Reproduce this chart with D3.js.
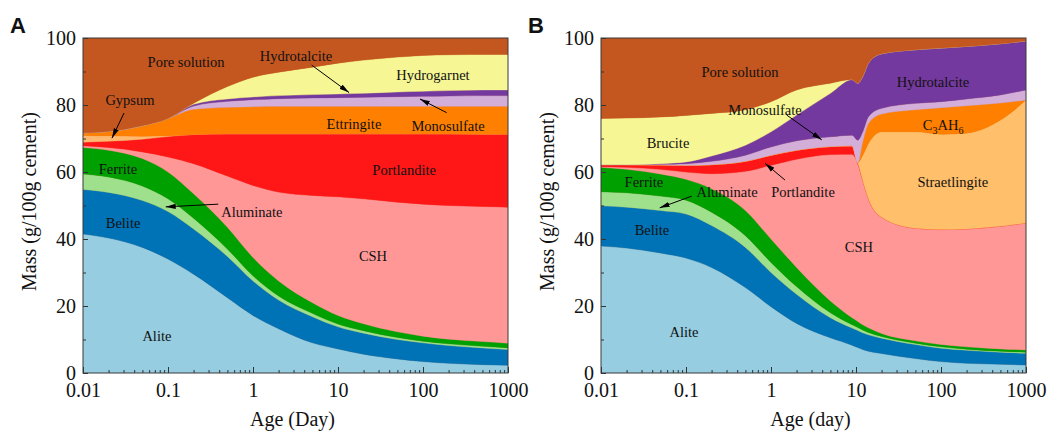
<!DOCTYPE html>
<html>
<head>
<meta charset="utf-8">
<script src="https://cdn.jsdelivr.net/npm/d3@7"></script>
<style>
body { margin: 0; background: #fff; }
svg text { font-family: "Liberation Serif", "Times New Roman", serif; fill: #111; }
</style>
</head>
<body>
<svg id="chart" width="1049" height="435"></svg>
<script>
// ---------- panel A data (g/100g cement) ----------
var agesA        = [0.01, 0.02, 0.05, 0.1, 0.2, 0.5, 1, 2, 5, 10, 20, 50, 100, 200, 500, 1000];
var aliteA       = [41.5, 40.3, 37.5, 34.0, 29.5, 22.5, 17.2, 13.2, 9.0, 7.2, 5.6, 4.2, 3.4, 2.9, 2.5, 2.3];
var beliteA      = [13.3, 13.6, 14.0, 14.2, 13.5, 12.3, 10.3, 8.6, 7.8, 6.6, 6.3, 5.8, 5.6, 5.3, 5.0, 4.7];
var aluminateA   = [4.6, 4.6, 4.3, 3.8, 3.2, 2.2, 1.5, 1.2, 1.0, 0.8, 0.7, 0.6, 0.5, 0.5, 0.5, 0.5];
var ferriteA     = [7.9, 8.0, 8.2, 8.0, 7.3, 6.5, 5.5, 4.5, 3.2, 2.6, 2.1, 1.7, 1.5, 1.4, 1.4, 1.4];
var cshA         = [0.5, 0.8, 2.0, 4.5, 9.0, 15.3, 21.5, 26.5, 32.0, 35.4, 37.3, 38.7, 39.4, 39.9, 40.3, 40.6];
var portlanditeA = [1.1, 1.9, 3.8, 6.1, 8.7, 12.6, 15.4, 17.4, 18.4, 18.8, 19.4, 20.4, 21.0, 21.4, 21.6, 21.8];
var gypsumA      = [2.0, 1.6, 0.9, 0.2, 0, 0, 0, 0, 0, 0, 0, 0, 0, 0, 0, 0];
var ettringiteA  = [0.8, 1.3, 3.1, 5.2, 7.5, 7.9, 8.1, 8.2, 8.2, 8.2, 8.2, 8.2, 8.2, 8.2, 8.3, 8.3];
var monosulfateA = [0, 0, 0, 0, 1.0, 1.8, 2.1, 2.3, 2.5, 2.6, 2.7, 2.9, 3.0, 3.1, 3.2, 3.2];
var hydrotalciteA= [0, 0, 0, 0, 0.5, 0.7, 0.8, 0.9, 1.0, 1.1, 1.2, 1.4, 1.5, 1.6, 1.7, 1.7];
var hydrogarnetA = [0, 0, 0, 0, 0.3, 3.7, 5.9, 7.0, 8.2, 9.2, 9.9, 10.4, 10.7, 10.7, 10.6, 10.6];
var poreA        = [28.3, 27.9, 26.2, 24.0, 19.5, 14.5, 11.7, 10.2, 8.7, 7.5, 6.6, 5.7, 5.2, 5.0, 4.9, 4.9];

// ---------- panel B data ----------
var agesB          = [0.01, 0.02, 0.05, 0.1, 0.2, 0.5, 1, 2, 5, 9, 10.5, 12, 14, 20, 50, 100, 200, 500, 1000];
var aliteB         = [37.9, 37.3, 35.8, 34.3, 31.5, 25.5, 19.8, 14.8, 10.5, 8.3, 7.6, 7.0, 6.5, 5.8, 4.3, 3.4, 2.9, 2.6, 2.4];
var beliteB        = [12.0, 12.2, 12.7, 13.2, 12.5, 12.0, 10.2, 8.7, 6.0, 5.1, 5.1, 5.0, 4.9, 4.6, 4.2, 4.0, 3.9, 3.6, 3.5];
var aluminateB     = [4.2, 4.3, 4.3, 4.1, 4.0, 3.5, 3.0, 2.3, 1.5, 1.0, 0.9, 0.8, 0.7, 0.5, 0.4, 0.4, 0.3, 0.3, 0.3];
var ferriteB       = [7.3, 7.0, 6.6, 6.2, 7.0, 7.5, 7.0, 5.7, 3.5, 2.1, 1.8, 1.6, 1.4, 0.9, 0.7, 0.7, 0.7, 0.7, 0.7];
var cshB           = [0.2, 0.6, 1.4, 2.2, 4.5, 11.7, 22.0, 32.3, 43.7, 48.8, 47.1, 43.1, 38.5, 34.7, 33.6, 34.3, 35.2, 36.6, 37.9];
var portlanditeB   = [0.6, 0.8, 1.3, 2.0, 2.7, 3.0, 3.0, 2.7, 2.4, 2.5, 0.3, 0, 0, 0, 0, 0, 0, 0, 0];
var straetlingiteB = [0, 0, 0, 0, 0, 0, 0, 0, 0, 0, 0, 7.5, 16.5, 25.5, 28.8, 28.5, 28.6, 31.7, 36.7];
var c3ah6B         = [0, 0, 0, 0, 0, 0, 0, 0, 0, 0, 0, 4.0, 6.0, 5.3, 6.6, 7.9, 8.2, 5.1, 0];
var monosulfateB   = [0, 0, 0.2, 0.5, 1.0, 1.8, 2.5, 2.8, 2.9, 3.2, 6.7, 3.0, 2.0, 1.7, 1.9, 1.8, 2.0, 2.4, 3.0];
var hydrotalciteB  = [0, 0, 0.2, 0.5, 1.6, 3.0, 4.5, 7.7, 13.0, 16.6, 17.0, 16.5, 16.0, 16.3, 16.0, 16.0, 15.7, 15.3, 14.6];
var bruciteB       = [13.8, 13.9, 13.9, 13.9, 12.7, 10.6, 9.0, 7.5, 3.0, 0, 0, 0, 0, 0, 0, 0, 0, 0, 0];
var poreB          = [24.0, 23.9, 23.6, 23.1, 22.5, 21.4, 19.0, 15.5, 13.5, 12.4, 13.5, 11.5, 7.5, 4.7, 3.5, 3.0, 2.5, 1.7, 0.9];

var xTickValues = [0.01, 0.1, 1, 10, 100, 1000];
var xTickLabels = ["0.01", "0.1", "1", "10", "100", "1000"];
var yTickValues = [0, 20, 40, 60, 80, 100];

// labels: [text, age, mass]
var labelsA = [
  ["Pore solution", 0.163, 92.8], ["Hydrotalcite", 3.2, 94.6], ["Hydrogarnet", 131, 89.0],
  ["Gypsum", 0.0357, 81.5], ["Ettringite", 15.4, 74.3], ["Monosulfate", 197, 73.7],
  ["Portlandite", 60, 60.6], ["Ferrite", 0.0258, 60.9], ["Aluminate", 0.97, 48.1],
  ["Belite", 0.0296, 44.8], ["CSH", 25.8, 34.9], ["Alite", 0.074, 11.0]
];
var labelsB = [
  ["Pore solution", 0.432, 89.9], ["Hydrotalcite", 80.5, 86.8], ["Brucite", 0.0614, 68.7],
  ["Monosulfate", 0.85, 78.5], ["C3AH6", 106, 74.0], ["Portlandite", 2.38, 54.1],
  ["Ferrite", 0.032, 57.1], ["Aluminate", 0.304, 54.1], ["Straetlingite", 138, 57.1],
  ["Belite", 0.0398, 42.7], ["CSH", 10.8, 37.7], ["Alite", 0.0947, 12.3]
];
// arrows: [fromAge, fromMass, toAge, toMass]
var arrowsA = [[0.0304, 77.6, 0.0219, 70.1], [4.9, 91.9, 13.5, 83.7], [190, 77.7, 92, 81.8], [0.39, 50.4, 0.094, 49.6]];
var arrowsB = [[1.53, 77.0, 3.95, 69.6], [1.46, 57.6, 0.85, 62.6], [0.117, 52.8, 0.049, 49.3]];

var colors = {
  alite: "#96cde1", belite: "#0072b6", aluminate: "#9fe08c", ferrite: "#00a000",
  csh: "#ff9797", portlandite: "#ff1717", gypsum: "#ffb870", ettringite: "#ff8000",
  monosulfate: "#d3aed8", hydrotalcite: "#74399e", hydrogarnet: "#f6f794", brucite: "#f6f794",
  straetlingite: "#ffbf6b", c3ah6: "#ff8000", pore: "#c4561f"
};

var rowsA = agesA.map(function(a, i) {
  return {age: a, alite: aliteA[i], belite: beliteA[i], aluminate: aluminateA[i], ferrite: ferriteA[i],
          csh: cshA[i], portlandite: portlanditeA[i], gypsum: gypsumA[i], ettringite: ettringiteA[i],
          monosulfate: monosulfateA[i], hydrotalcite: hydrotalciteA[i], hydrogarnet: hydrogarnetA[i], pore: poreA[i]};
});
var keysA = ["alite", "belite", "aluminate", "ferrite", "csh", "portlandite", "gypsum", "ettringite",
             "monosulfate", "hydrotalcite", "hydrogarnet", "pore"];

var rowsB = agesB.map(function(a, i) {
  return {age: a, alite: aliteB[i], belite: beliteB[i], aluminate: aluminateB[i], ferrite: ferriteB[i],
          csh: cshB[i], portlandite: portlanditeB[i], straetlingite: straetlingiteB[i], c3ah6: c3ah6B[i],
          monosulfate: monosulfateB[i], hydrotalcite: hydrotalciteB[i], brucite: bruciteB[i], pore: poreB[i]};
});
var keysB = ["alite", "belite", "aluminate", "ferrite", "csh", "portlandite", "straetlingite", "c3ah6",
             "monosulfate", "hydrotalcite", "brucite", "pore"];

var svg = d3.select("#chart");
var plotW = 425, plotH = 335;

svg.append("defs").append("marker")
    .attr("id", "arrow")
    .attr("viewBox", "0 -3 10 6")
    .attr("refX", 10).attr("refY", 0)
    .attr("markerUnits", "userSpaceOnUse")
    .attr("markerWidth", 10).attr("markerHeight", 6)
    .attr("orient", "auto")
  .append("path")
    .attr("d", "M0,-2.6L10,0L0,2.6Z")
    .attr("fill", "#000");

function drawPanel(left, id, rows, keys, labels, arrows, xTitle, letter) {
  var g = svg.append("g").attr("transform", "translate(" + left + ",38)");

  var x = d3.scaleLog().domain([0.01, 1000]).range([0, plotW]);
  var y = d3.scaleLinear().domain([0, 100]).range([plotH, 0]);

  g.append("clipPath").attr("id", "clip" + id)
    .append("rect").attr("width", plotW).attr("height", plotH);

  var plot = g.append("g").attr("clip-path", "url(#clip" + id + ")");
  plot.append("rect").attr("width", plotW).attr("height", plotH).attr("fill", colors.pore);

  var series = d3.stack().keys(keys)(rows);
  var area = d3.area()
      .x(function(d) { return x(d.data.age); })
      .y0(function(d) { return y(d[0]); })
      .y1(function(d) { return y(d[1]); })
      .curve(d3.curveMonotoneX);

  plot.selectAll("path.layer")
    .data(series)
    .enter().append("path")
      .attr("class", "layer")
      .attr("d", area)
      .attr("fill", function(d) { return colors[d.key]; })
      .attr("stroke", function(d) { return colors[d.key]; })
      .attr("stroke-width", 0.4);

  // ticks
  var minors = [];
  [0.01, 0.1, 1, 10, 100].forEach(function(b) {
    for (var k = 2; k < 10; k++) minors.push(b * k);
  });

  g.append("g").attr("transform", "translate(0," + plotH + ")")
    .call(d3.axisBottom(x).tickValues(xTickValues)
      .tickFormat(function(d, i) { return xTickLabels[i]; })
      .tickSizeInner(-6).tickSizeOuter(0).tickPadding(9.5));
  g.append("g").attr("transform", "translate(0," + plotH + ")")
    .call(d3.axisBottom(x).tickValues(minors).tickFormat("").tickSizeInner(-3).tickSizeOuter(0));

  g.append("g")
    .call(d3.axisLeft(y).tickValues(yTickValues).tickSizeInner(-5).tickSizeOuter(0).tickPadding(7));
  g.append("g")
    .call(d3.axisLeft(y).tickValues([10, 30, 50, 70, 90]).tickFormat("").tickSizeInner(-3).tickSizeOuter(0));

  g.selectAll(".domain").remove();
  g.selectAll(".tick line").attr("stroke", "#333");
  g.selectAll(".tick text").attr("font-size", 20)
    .attr("font-family", "'Liberation Serif', 'Times New Roman', serif").attr("fill", "#111");

  g.append("rect").attr("width", plotW).attr("height", plotH)
    .attr("fill", "none").attr("stroke", "#3a3a3a").attr("stroke-width", 1);

  // annotations
  labels.forEach(function(l) {
    var t = g.append("text")
      .attr("x", x(l[1])).attr("y", y(l[2]))
      .attr("dy", "0.35em")
      .attr("text-anchor", "middle")
      .attr("font-size", 14.5);
    if (l[0] === "C3AH6") {
      t.append("tspan").text("C");
      t.append("tspan").text("3").attr("font-size", 10).attr("dy", 4);
      t.append("tspan").text("AH").attr("dy", -4);
      t.append("tspan").text("6").attr("font-size", 10).attr("dy", 4);
    } else {
      t.text(l[0]);
    }
  });

  arrows.forEach(function(a) {
    g.append("line")
      .attr("x1", x(a[0])).attr("y1", y(a[1]))
      .attr("x2", x(a[2])).attr("y2", y(a[3]))
      .attr("stroke", "#000").attr("stroke-width", 1)
      .attr("marker-end", "url(#arrow)");
  });

  // axis titles
  g.append("text")
    .attr("x", plotW / 2 - 3).attr("y", plotH + 53)
    .attr("text-anchor", "middle").attr("font-size", 20)
    .text(xTitle);
  g.append("text")
    .attr("transform", "translate(-47," + (plotH / 2 - 4) + ") rotate(-90)")
    .attr("text-anchor", "middle").attr("font-size", 20)
    .text("Mass (g/100g cement)");

  g.append("text")
    .attr("x", -73).attr("y", -5)
    .attr("font-size", 22).attr("font-weight", "bold")
    .style("font-family", "'Liberation Sans', Arial, sans-serif")
    .text(letter);
}

drawPanel(83, "A", rowsA, keysA, labelsA, arrowsA, "Age (Day)", "A");
drawPanel(601, "B", rowsB, keysB, labelsB, arrowsB, "Age (day)", "B");
</script>
</body>
</html>
